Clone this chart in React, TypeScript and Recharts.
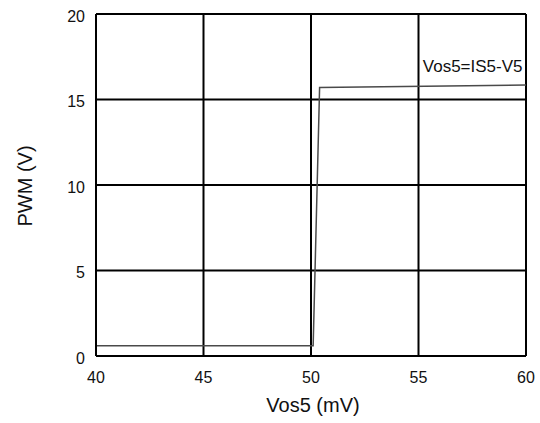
import { CartesianGrid, Line, LineChart, ReferenceDot, XAxis, YAxis } from "recharts"

const vos5 = [40, 50.1, 50.4, 60]
const pwm = [0.6, 0.6, 15.7, 15.85]
const xTicks = [40, 45, 50, 55, 60]
const yTicks = [0, 5, 10, 15, 20]

const data = vos5.map((v, i) => ({ vos5: v, pwm: pwm[i] }))

const font = "'Liberation Sans', Arial, sans-serif"

function Title(props: { tx: number; ty: number; rot?: number; text: string }) {
  const { tx, ty, rot = 0, text } = props
  return (
    <text
      x={tx}
      y={ty}
      textAnchor="middle"
      dominantBaseline="central"
      transform={rot ? `rotate(${rot} ${tx} ${ty})` : undefined}
      fontFamily={font}
      fontSize={20}
      fill="#111"
    >
      {text}
    </text>
  )
}

function CurveLabel(props: any) {
  const vb = props.viewBox || {}
  return (
    <text x={vb.x} y={vb.y} fontFamily={font} fontSize={17} fill="#111">
      Vos5=IS5-V5
    </text>
  )
}

export default function App() {
  return (
    <div style={{ position: "absolute", left: 0, top: 0, background: "#fff" }}>
      <LineChart width={540} height={423} data={data} margin={{ top: 14, right: 14, bottom: 37, left: 56 }}>
        <CartesianGrid stroke="#000" strokeWidth={2} />
        <XAxis
          dataKey="vos5"
          type="number"
          domain={[40, 60]}
          ticks={xTicks}
          height={30}
          tickLine={false}
          tickSize={0}
          tickMargin={16}
          axisLine={{ stroke: "#000", strokeWidth: 2 }}
          tick={{ fill: "#111", fontSize: 16, fontFamily: font }}
          label={<Title tx={313} ty={405} text="Vos5 (mV)" />}
        />
        <YAxis
          type="number"
          domain={[0, 20]}
          ticks={yTicks}
          width={40}
          tickLine={false}
          tickSize={0}
          tickMargin={11}
          axisLine={{ stroke: "#000", strokeWidth: 2 }}
          tick={{ fill: "#111", fontSize: 16, fontFamily: font, dy: 2 }}
          label={<Title tx={25} ty={186} rot={-90} text="PWM (V)" />}
        />
        <Line
          type="linear"
          dataKey="pwm"
          stroke="#4a4a4a"
          strokeWidth={1.5}
          dot={false}
          isAnimationActive={false}
        />
        <ReferenceDot x={55.2} y={16.6} r={0} fill="none" stroke="none" label={<CurveLabel />} />
      </LineChart>
    </div>
  )
}
